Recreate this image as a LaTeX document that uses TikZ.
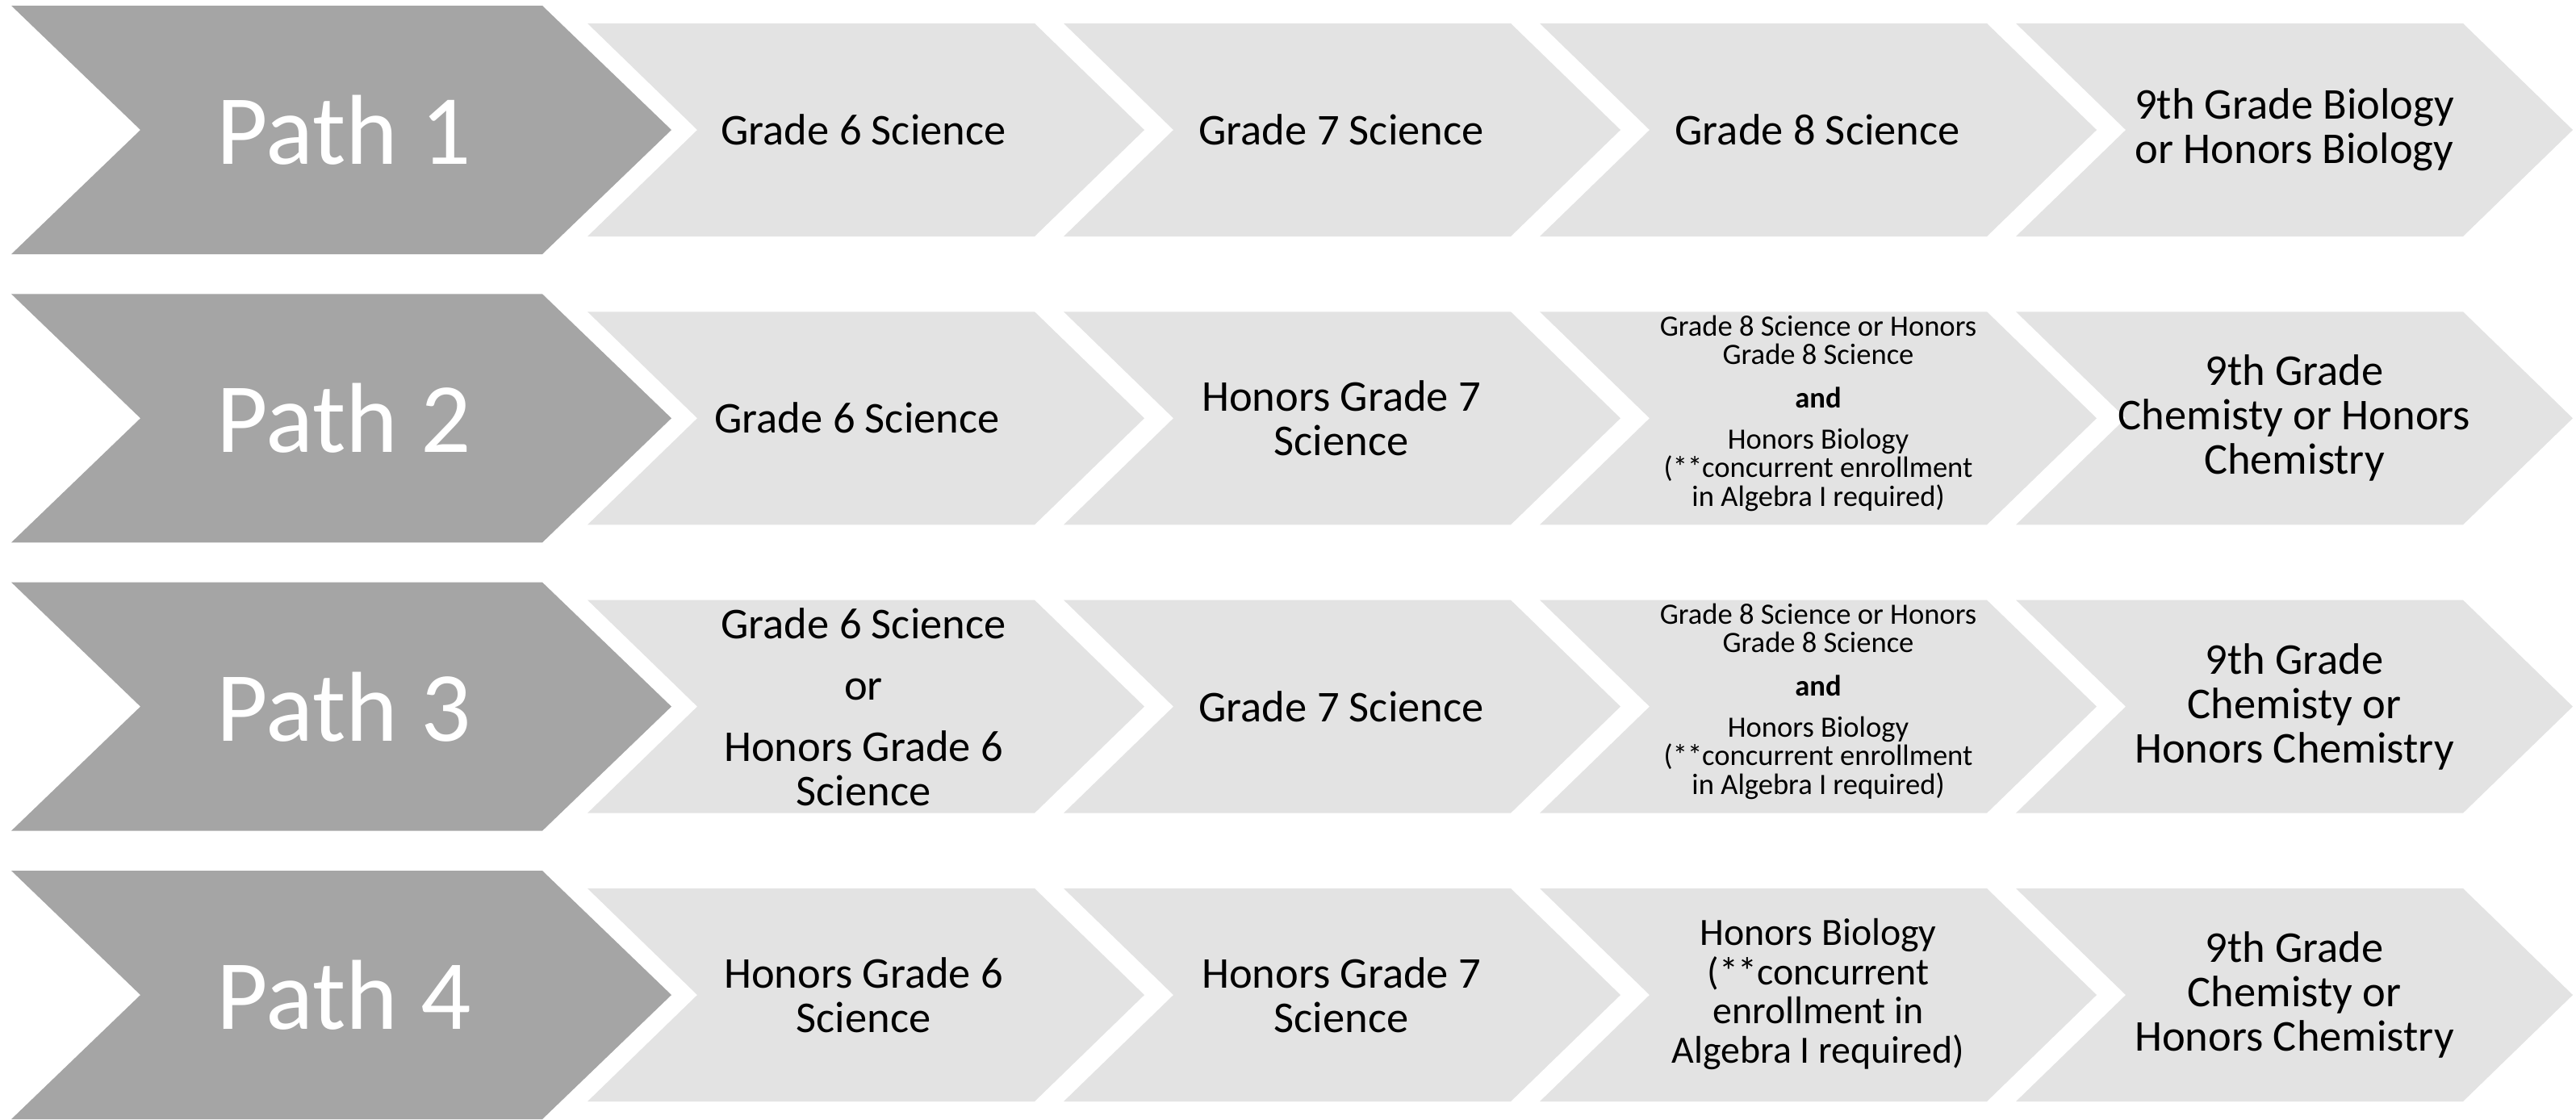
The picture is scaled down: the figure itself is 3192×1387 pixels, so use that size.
\documentclass[tikz,border=0pt]{standalone}
\usepackage{fontspec}
\setmainfont{Carlito}
\usepackage{tikz}
\definecolor{pathgray}{HTML}{A5A5A5}
\definecolor{stepgray}{HTML}{E3E3E3}
% chevron: colour, left x, centre y, half height, body width, point depth
\newcommand{\chevron}[6]{\fill[#1] (#2,#3-#4) -- ++(#5,0) -- ++(#6,#4) -- ++(-#6,#4) -- ++(-#5,0) -- ++(#6,-#4) -- cycle;}

\begin{document}
\begin{tikzpicture}[x=0.01cm, y=-0.01cm,
  pathlbl/.style={text=white, inner sep=0pt, font=\fontsize{35}{36}\selectfont},
  steplbl/.style={align=center, inner sep=0pt, font=\fontsize{15.5}{15.6}\selectfont},
  smalllbl/.style={align=center, inner sep=0pt, font=\fontsize{10.4}{10}\selectfont},
  midlbl/.style={align=center, inner sep=0pt, font=\fontsize{13.6}{13.9}\selectfont}]
  \useasboundingbox (0,0) rectangle (3192,1387);
  % the four rows of chevrons
  \foreach \cy in {161, 518.3, 875.6, 1233} {
    \chevron{pathgray}{14}{\cy}{154}{658}{160}
    \foreach \lx in {728, 1318, 1908, 2498} {
      \chevron{stepgray}{\lx}{\cy}{132}{554}{136}
    }
  }
  % Path 1
  \node[pathlbl] (PA) at (426, 161) {Path 1};
  \node[steplbl] (AA) at (1070, 161) {Grade 6 Science};
  \node[steplbl] (AB) at (1662, 161) {Grade 7 Science};
  \node[steplbl] (AC) at (2252, 161) {Grade 8 Science};
  \node[steplbl] (AD) at (2843, 161) {9th Grade Biology\\or Honors Biology};
  % Path 2
  \node[pathlbl] (PB) at (426, 518) {Path 2};
  \node[steplbl] (BA) at (1062, 518) {Grade 6 Science};
  \node[steplbl] (BB) at (1662, 518) {Honors Grade 7\\Science};
  \node[smalllbl] (BC) at (2253, 512) {Grade 8 Science or Honors\\Grade 8 Science\\[5.5pt]
    \textbf{and}\\[4.5pt]Honors Biology\\(**concurrent enrollment\\in Algebra I required)};
  \node[steplbl] (BD) at (2843, 518) {9th Grade\\Chemisty or Honors\\Chemistry};
  % Path 3
  \node[pathlbl] (PC) at (426, 876) {Path 3};
  \node[steplbl] (CA) at (1070, 876) {Grade 6 Science\\[6pt]or\\[6pt]Honors Grade 6\\Science};
  \node[steplbl] (CB) at (1662, 876) {Grade 7 Science};
  \node[smalllbl] (CC) at (2253, 869) {Grade 8 Science or Honors\\Grade 8 Science\\[5.5pt]
    \textbf{and}\\[4.5pt]Honors Biology\\(**concurrent enrollment\\in Algebra I required)};
  \node[steplbl] (CD) at (2843, 876) {9th Grade\\Chemisty or\\Honors Chemistry};
  % Path 4
  \node[pathlbl] (PD) at (426, 1233) {Path 4};
  \node[steplbl] (DA) at (1070, 1233) {Honors Grade 6\\Science};
  \node[steplbl] (DB) at (1662, 1233) {Honors Grade 7\\Science};
  \node[midlbl] (DC) at (2253, 1232) {Honors Biology\\(**concurrent\\enrollment in\\Algebra I required)};
  \node[steplbl] (DD) at (2843, 1233) {9th Grade\\Chemisty or\\Honors Chemistry};
\end{tikzpicture}
\end{document}
